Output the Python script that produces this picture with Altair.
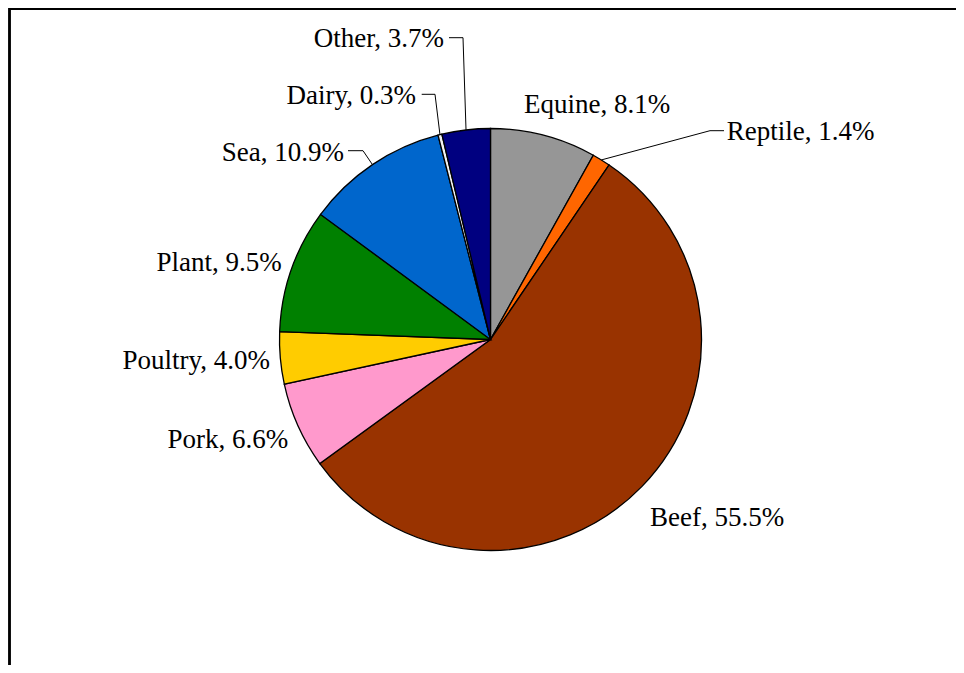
import math
import altair as alt
import pandas as pd

# ---- data ----
categories = ["Equine", "Reptile", "Beef", "Pork", "Poultry", "Plant", "Sea", "Dairy", "Other"]
shares = [8.1, 1.4, 55.5, 6.6, 4.0, 9.5, 10.9, 0.3, 3.7]
colors = ["#969696", "#FF6600", "#993300", "#FF99CC", "#FFCC00", "#008000", "#0066CC", "#F2F2F2", "#000080"]

# ---- layout (chart pixel coordinates) ----
W, H = 948, 657
OFF = 8
CX, CY, R = 490.5 - OFF, 339.5 - OFF, 211
FONT = "Liberation Serif, Times New Roman, DejaVu Serif, serif"
FS = 27

# label anchor (page coords), alignment
label_layout = {
    "Equine": (524, 113.3, "left"),
    "Reptile": (726.7, 140.0, "left"),
    "Beef": (650, 526.0, "left"),
    "Pork": (288.3, 447.7, "right"),
    "Poultry": (270, 369.3, "right"),
    "Plant": (281.7, 270.7, "right"),
    "Sea": (344, 160.7, "right"),
    "Dairy": (416, 104.0, "right"),
    "Other": (444, 47.3, "right"),
}
# leader line start + elbow (page coords)
leader_layout = {
    "Other": [(449, 37.7), (463, 37.7)],
    "Dairy": [(421.7, 94.3), (435, 94.3)],
    "Sea": [(348, 150.7), (363, 150.7)],
    "Reptile": [(724, 130.7), (710, 130.7)],
}

df = pd.DataFrame({"cat": categories, "share": shares, "idx": list(range(len(categories)))})
df["label"] = [f"{c}, {s:.1f}%" for c, s in zip(categories, shares)]
df["lx"] = [label_layout[c][0] - OFF for c in categories]
df["ly"] = [label_layout[c][1] - OFF for c in categories]
df["al"] = [label_layout[c][2] for c in categories]

# leader lines: end point on the slice edge at its mid-angle
total = sum(shares)
cum = 0.0
mid = {}
for c, s in zip(categories, shares):
    mid[c] = (cum + s / 2) / total * 2 * math.pi
    cum += s
rows = []
for c, pts in leader_layout.items():
    for i, (px, py) in enumerate(pts):
        rows.append({"cat": c, "step": i, "x": px - OFF, "y": py - OFF})
    a = mid[c]
    rows.append({"cat": c, "step": len(pts), "x": CX + R * math.sin(a), "y": CY - R * math.cos(a)})
lead = pd.DataFrame(rows)

pie = alt.Chart(df).mark_arc(outerRadius=R, stroke="black", strokeWidth=1.3).encode(
    theta=alt.Theta("share:Q", stack=True),
    order=alt.Order("idx:Q", sort="ascending"),
    color=alt.Color("cat:N", scale=alt.Scale(domain=categories, range=colors), legend=None),
    x=alt.value(CX),
    y=alt.value(CY),
)

lines = alt.Chart(lead).mark_line(color="black", strokeWidth=1).encode(
    x=alt.X("x:Q", scale=None, axis=None),
    y=alt.Y("y:Q", scale=None, axis=None),
    detail="cat:N",
    order="step:Q",
)

def text_layer(align):
    return alt.Chart(df).transform_filter(alt.datum.al == align).mark_text(
        align=align, baseline="alphabetic", font=FONT, fontSize=FS, color="black"
    ).encode(
        x=alt.X("lx:Q", scale=None, axis=None),
        y=alt.Y("ly:Q", scale=None, axis=None),
        text="label:N",
    )

frame_top = alt.Chart(df).mark_rule(color="black", strokeWidth=1.5).encode(
    x=alt.value(1), x2=alt.value(W), y=alt.value(0.75)
)
frame_left = alt.Chart(df).mark_rule(color="black", strokeWidth=1.5).encode(
    x=alt.value(1.5), y=alt.value(0), y2=alt.value(H)
)

chart = alt.layer(pie, lines, text_layer("left"), text_layer("right"), frame_top, frame_left).properties(
    width=W, height=H, padding=0, autosize=alt.AutoSizeParams(type="none"), background="white"
).configure_view(stroke=None)

chart.save("out.html", embed_options={"renderer": "svg", "actions": False})
